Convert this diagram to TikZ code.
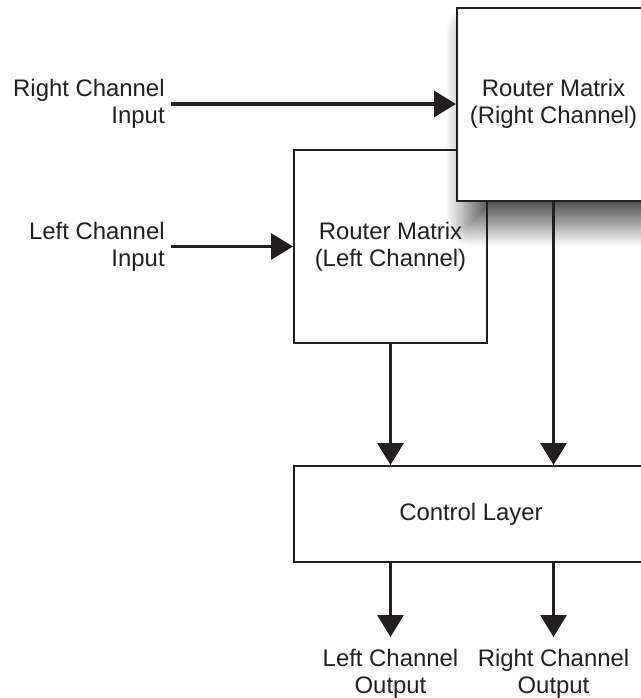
\documentclass[tikz,border=0pt]{standalone}
\usepackage{fontspec}
\setmainfont{Liberation Sans}
\usepackage{xcolor}
\definecolor{ink}{RGB}{35,31,32}
\usepackage{tikz}
\usetikzlibrary{arrows.meta, positioning, shadows.blur, backgrounds}
\tikzset{
  router/.style={
    rectangle, draw=ink, line width=0.04cm,
    minimum width=3.86cm, minimum height=3.86cm,
    text centered, align=center, text=ink,
    font=\fontsize{13.6}{15.3}\selectfont
  },
  ctrlbox/.style={
    rectangle, draw=ink, fill=white, line width=0.04cm,
    minimum width=7.08cm, minimum height=1.92cm,
    text centered, text=ink,
    font=\fontsize{13.6}{15.3}\selectfont
  },
  inlbl/.style={
    align=right, anchor=east, inner xsep=0.12cm, text=ink,
    font=\fontsize{13.6}{15.3}\selectfont
  },
  outlbl/.style={
    align=center, anchor=north, inner ysep=0.24cm, text=ink,
    font=\fontsize{13.6}{15.3}\selectfont
  },
  softshadow/.style={
    blur shadow={shadow xshift=0.25cm, shadow yshift=-0.45cm,
      shadow blur radius=0.45cm, shadow blur steps=40, shadow opacity=70}
  },
  arrow/.style={line width=0.066cm, color=ink, -{Triangle[length=0.44cm, width=0.52cm]}},
}

\begin{document}
\begin{tikzpicture}
  \path [use as bounding box, clip] (0,0) rectangle (12.82,-13.96);

  \node (rmleft)  [router] at (7.81,-4.93) {Router Matrix\\(Left Channel)};
  \node (rmright) [router, fill=white] at (11.07,-2.08) {Router Matrix\\(Right Channel)};
  \node (ctrl)    [ctrlbox] at (9.42,-10.28) {Control Layer};

  % shadow under the right matrix
  \begin{scope}[on background layer]
    \path [softshadow] (rmright.south west) rectangle (rmright.north east);
  \end{scope}

  \node (rin)  [inlbl] at (3.42,-2.08) {Right Channel\\Input};
  \node (lin)  [inlbl] at (3.42,-4.93) {Left Channel\\Input};
  \node (lout) [outlbl] at (7.81,-12.74) {Left Channel\\Output};
  \node (rout) [outlbl] at (11.07,-12.74) {Right Channel\\Output};

  \draw [arrow] (rin.east)     -- (rmright.west);
  \draw [arrow] (lin.east)     -- (rmleft.west);
  \draw [arrow] (rmleft.south) -- (rmleft.south |- ctrl.north);
  \draw [arrow] (rmright.south) -- (rmright.south |- ctrl.north);
  \draw [arrow] (ctrl.south -| lout.north) -- (lout.north);
  \draw [arrow] (ctrl.south -| rout.north) -- (rout.north);
\end{tikzpicture}
\end{document}
